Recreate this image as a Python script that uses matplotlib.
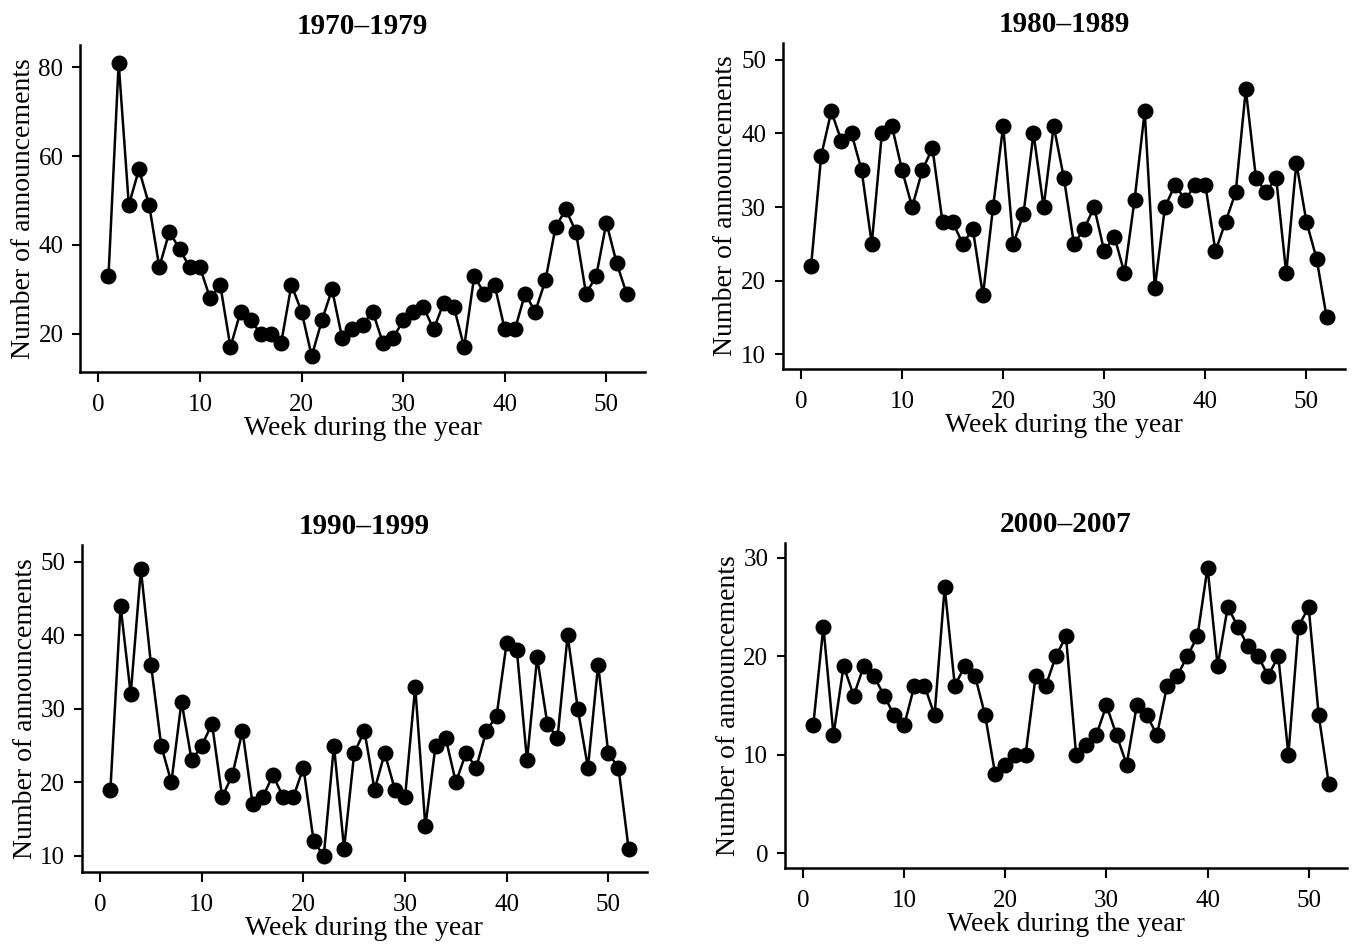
import numpy as np
import matplotlib
matplotlib.use('Agg')
import matplotlib.pyplot as plt

# weeks 1..52
weeks = np.arange(1, 53)

# weekly counts of announcements for each decade
counts_1970s = [33, 81, 49, 57, 49, 35, 43, 39, 35, 35, 28, 31, 17, 25, 23, 20, 20, 18,
                31, 25, 15, 23, 30, 19, 21, 22, 25, 18, 19, 23, 25, 26, 21, 27, 26, 17,
                33, 29, 31, 21, 21, 29, 25, 32, 44, 48, 43, 29, 33, 45, 36, 29]
counts_1980s = [22, 37, 43, 39, 40, 35, 25, 40, 41, 35, 30, 35, 38, 28, 28, 25, 27, 18,
                30, 41, 25, 29, 40, 30, 41, 34, 25, 27, 30, 24, 26, 21, 31, 43, 19, 30,
                33, 31, 33, 33, 24, 28, 32, 46, 34, 32, 34, 21, 36, 28, 23, 15]
counts_1990s = [19, 44, 32, 49, 36, 25, 20, 31, 23, 25, 28, 18, 21, 27, 17, 18, 21, 18,
                18, 22, 12, 10, 25, 11, 24, 27, 19, 24, 19, 18, 33, 14, 25, 26, 20, 24,
                22, 27, 29, 39, 38, 23, 37, 28, 26, 40, 30, 22, 36, 24, 22, 11]
counts_2000s = [13, 23, 12, 19, 16, 19, 18, 16, 14, 13, 17, 17, 14, 27, 17, 19, 18, 14,
                8, 9, 10, 10, 18, 17, 20, 22, 10, 11, 12, 15, 12, 9, 15, 14, 12, 17,
                18, 20, 22, 29, 19, 25, 23, 21, 20, 18, 20, 10, 23, 25, 14, 7]

titles = ['1970\u20131979', '1980\u20131989', '1990\u20131999', '2000\u20132007']
series = [counts_1970s, counts_1980s, counts_1990s, counts_2000s]
yticks = [[20, 40, 60, 80], [10, 20, 30, 40, 50], [10, 20, 30, 40, 50], [0, 10, 20, 30]]
ylims = [(11.4, 85), (8, 52.3), (7.8, 52.3), (-1.5, 31.5)]

plt.rcParams['font.family'] = ['Liberation Serif', 'DejaVu Serif']

fig = plt.figure(figsize=(13.59, 9.49), dpi=100)

# axes boxes in figure fractions
boxes = [(0.0589, 0.608, 0.4157, 0.3446),
         (0.576, 0.6112, 0.4136, 0.3435),
         (0.0603, 0.0811, 0.4157, 0.3446),
         (0.5776, 0.0854, 0.4136, 0.3425)]

for box, title, vals, yt, yl in zip(boxes, titles, series, yticks, ylims):
    ax = fig.add_axes(box)
    ax.plot(weeks, vals, color='black', lw=1.8, marker='o', ms=10.5,
            markerfacecolor='black', markeredgecolor='black')
    ax.set_xlim(-1.8, 53.8)
    ax.set_ylim(*yl)
    ax.set_xticks([0, 10, 20, 30, 40, 50])
    ax.set_yticks(yt)
    ax.spines['top'].set_visible(False)
    ax.spines['right'].set_visible(False)
    ax.spines['left'].set_linewidth(1.8)
    ax.spines['bottom'].set_linewidth(1.8)
    ax.tick_params(direction='out', length=6, width=1.5, labelsize=18)
    ax.tick_params(axis='x', length=7, pad=9)
    ax.tick_params(axis='y', pad=6)
    ax.set_xlabel('Week during the year', fontsize=20, labelpad=0)
    ax.set_ylabel('Number of announcements', fontsize=20, labelpad=2)
    ax.set_title(title, fontsize=21, fontweight='bold', pad=8)

fig.savefig('out.png', dpi=100)
